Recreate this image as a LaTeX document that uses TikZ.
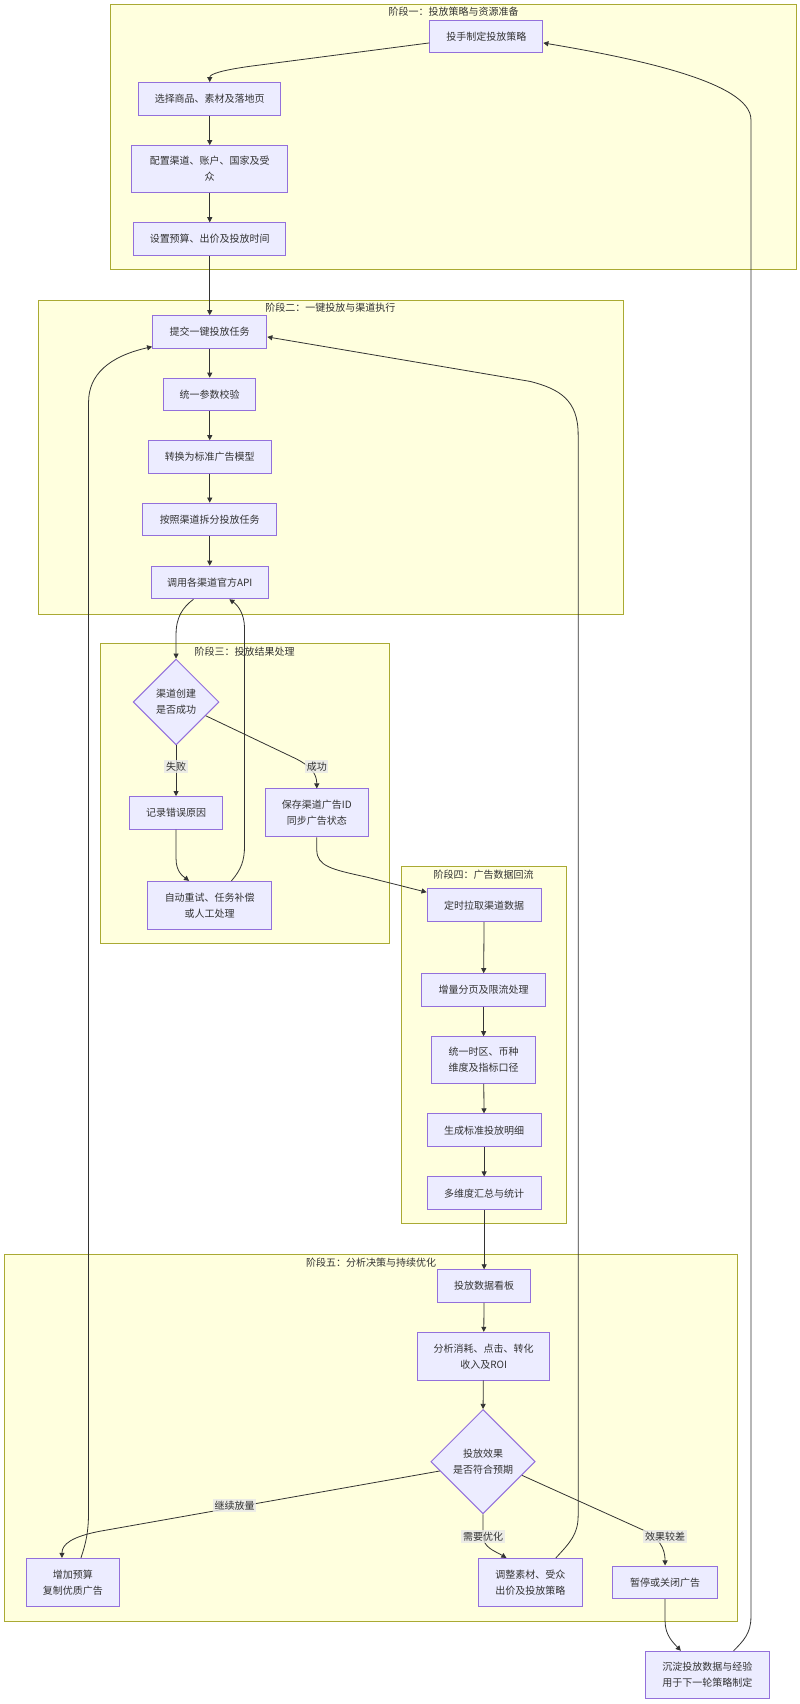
\documentclass[tikz,border=0pt]{standalone}
\usepackage{fontspec}
\setmainfont{Noto Sans CJK SC}
\usetikzlibrary{shapes.geometric,arrows.meta,calc}
\definecolor{nodefill}{HTML}{ECECFF}
\definecolor{nodeline}{HTML}{9370DB}
\definecolor{clfill}{HTML}{FFFFDE}
\definecolor{clline}{HTML}{AAAA33}
\definecolor{txt}{HTML}{333333}
\definecolor{edgec}{HTML}{333333}
\definecolor{lblfill}{HTML}{E8E8E8}
\begin{document}
\begin{tikzpicture}[x=0.8152pt,y=-0.8152pt,
  every node/.style={font=\fontsize{7.5}{12}\selectfont, text=txt},
  box/.style 2 args={rectangle, draw=nodeline, fill=nodefill, line width=0.75pt, inner sep=0pt, align=center, minimum width=#1*0.8152pt, minimum height=#2*0.8152pt},
  dia/.style={diamond, aspect=1, draw=nodeline, fill=nodefill, line width=0.75pt, inner sep=0pt, align=center, minimum width=#1*0.8152pt, minimum height=#1*0.8152pt},
  cluster/.style={draw=clline, fill=clfill, line width=0.75pt},
  ctitle/.style={inner sep=0pt},
  edge/.style={draw=edgec, line width=0.6pt, -{Triangle[length=3.8pt,width=3.8pt]}},
  elabel/.style={fill=lblfill, fill opacity=0.8, text opacity=1, inner sep=1.2pt}
]
\fill[white] (0,0) rectangle (736,1568);
\useasboundingbox (0,0) rectangle (736,1568);

% clusters
\draw[cluster] (102,4.3) rectangle (733,248);
\node[ctitle] (t1) at (417.5,11) {阶段一：投放策略与资源准备};
\draw[cluster] (35,276.6) rectangle (573.5,565);
\node[ctitle] (t2) at (304,283) {阶段二：一键投放与渠道执行};
\draw[cluster] (92.6,592.5) rectangle (358,868.5);
\node[ctitle] (t3) at (225,599.5) {阶段三：投放结果处理};
\draw[cluster] (369,797.5) rectangle (521.5,1126);
\node[ctitle] (t4) at (445,804.5) {阶段四：广告数据回流};
\draw[cluster] (3.7,1154.6) rectangle (679,1492);
\node[ctitle] (t5) at (341.5,1161.5) {阶段五：分析决策与持续优化};

% stage 1
\node[box={104}{30}] (tou) at (447.5,33.5) {投手制定投放策略};
\node[box={131}{30}] (xz) at (193,91) {选择商品、素材及落地页};
\node[box={144}{43}] (pz) at (193,155.5) {配置渠道、账户、国家及受\\众};
\node[box={140}{30}] (sz) at (193,220) {设置预算、出价及投放时间};
% stage 2
\node[box={105}{30}] (tj) at (193,305.5) {提交一键投放任务};
\node[box={85}{30}] (ty) at (193,363) {统一参数校验};
\node[box={113}{30}] (zh) at (193,420.5) {转换为标准广告模型};
\node[box={123}{30}] (az) at (193,478) {按照渠道拆分投放任务};
\node[box={108}{30}] (dy) at (193,536) {调用各渠道官方API};
% stage 3
\node[dia={79}] (d1) at (162,646) {渠道创建\\是否成功};
\node[box={86}{30}] (jl) at (162,748) {记录错误原因};
\node[box={95}{44}] (bc) at (291.5,748) {保存渠道广告ID\\同步广告状态};
\node[box={114}{44}] (zd) at (193,833) {自动重试、任务补偿\\或人工处理};
% stage 4
\node[box={105}{30}] (ds) at (445.5,833) {定时拉取渠道数据};
\node[box={114}{30}] (zl) at (445,911) {增量分页及限流处理};
\node[box={96}{43}] (tq) at (445,975.5) {统一时区、币种\\维度及指标口径};
\node[box={105}{30}] (sc) at (445.5,1040) {生成标准投放明细};
\node[box={105}{30}] (dw) at (445.5,1098) {多维度汇总与统计};
% stage 5
\node[box={85}{30}] (kb) at (445.5,1183.5) {投放数据看板};
\node[box={122}{44}] (fx) at (445,1248) {分析消耗、点击、转化\\收入及ROI};
\node[dia={96}] (d2) at (444.5,1345) {投放效果\\是否符合预期};
\node[box={86}{44}] (zj) at (67,1456) {增加预算\\复制优质广告};
\node[box={96}{44}] (tz) at (488,1456) {调整素材、受众\\出价及投放策略};
\node[box={96}{30}] (zt) at (612,1456) {暂停或关闭广告};
\node[box={114}{43}] (cd) at (651,1541) {沉淀投放数据与经验\\用于下一轮策略制定};

% edges
\draw[edge] ($(tou.west)+(0,6)$) -- (230,61) .. controls (205,64.5) and (193,68) .. (xz.north);
\draw[edge] (xz) -- (pz);
\draw[edge] (pz) -- (sz);
\draw[edge] (sz) -- (tj);
\draw[edge] (tj) -- (ty);
\draw[edge] (ty) -- (zh);
\draw[edge] (zh) -- (az);
\draw[edge] (az) -- (dy);
\draw[edge] ($(dy.south)+(-15,0)$) .. controls (168,559) and (162,568) .. (162,584) -- (d1.north);
\draw[edge] ($(zd.north)+(20,0)$) .. controls (222,800) and (225,792) .. (225,778) -- (225,578) .. controls (225,565) and (219,557) .. ($(dy.south)+(18,0)$);
\draw[edge] (d1.south) -- (jl.north);
\draw[edge] ($(d1.east)!0.316!(d1.south)$) -- (272,698) .. controls (286,705) and (291.5,712) .. (bc.north);
\draw[edge] (jl.south) -- (162,790) .. controls (162,802) and (168,806) .. ($(zd.north)+(-19,0)$);
\draw[edge] (bc.south) -- (291.5,782) .. controls (291.5,797) and (305,800) .. (337,807) -- ($(ds.west)+(0,-12)$);
\draw[edge] (ds) -- (zl);
\draw[edge] (zl) -- (tq);
\draw[edge] (tq) -- (sc);
\draw[edge] (sc) -- (dw);
\draw[edge] (dw) -- (kb);
\draw[edge] (kb) -- (fx);
\draw[edge] (fx) -- (d2.north);
\draw[edge] ($(d2.west)!0.177!(d2.south)$) -- (92,1409) .. controls (66,1414) and (57,1421) .. ($(zj.north)+(-10,0)$);
\draw[edge] (d2.south) -- (444.5,1413) .. controls (444.5,1424) and (455,1427) .. ($(tz.north)+(-22,0)$);
\draw[edge] ($(d2.east)!0.26!(d2.south)$) -- (592,1408) .. controls (606,1415) and (612,1424) .. (zt.north);
\draw[edge] (zt.south) -- (612,1492) .. controls (612,1505) and (620,1512) .. ($(cd.north)+(-24.5,0)$);
\draw[edge] ($(cd.north)+(24,0)$) .. controls (684,1510) and (691,1503) .. (691,1488) -- (691,110) .. controls (691,75) and (580,53) .. ($(tou.east)+(0,6)$);
\draw[edge] ($(tz.north)+(23.5,0)$) .. controls (524,1420) and (532,1412) .. (532,1395) -- (532,400) .. controls (532,368) and (515,358) .. (488,351) -- ($(tj.east)+(0,4.5)$);
\draw[edge] ($(zj.north)+(7.5,0)$) .. controls (79,1420) and (81.5,1410) .. (81.5,1390) -- (81.5,370) .. controls (81.5,345) and (100,328) .. ($(tj.west)+(0,13.5)$);

% edge labels
\node[elabel] (l1) at (162,705.5) {失败};
\node[elabel] (l2) at (291.5,705.5) {成功};
\node[elabel] (l3) at (216,1385.5) {继续放量};
\node[elabel] (l4) at (444.5,1414) {需要优化};
\node[elabel] (l5) at (612,1414) {效果较差};
\end{tikzpicture}
\end{document}
